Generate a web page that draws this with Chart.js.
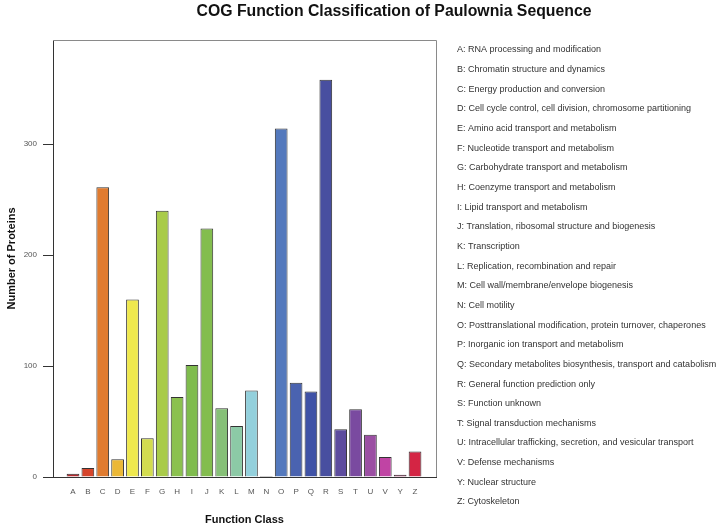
<!DOCTYPE html>
<html>
<head>
<meta charset="utf-8">
<script src="https://cdn.jsdelivr.net/npm/chart.js@4"></script>
<style>
  html, body { margin:0; padding:0; background:#fff; }
  #wrap { width:720px; height:524px; position:relative; }
</style>
</head>
<body>
<div id="wrap"><canvas id="cog"></canvas></div>
<script>
// COG classes and protein counts
const categories = ['A','B','C','D','E','F','G','H','I','J','K','L','M','N','O','P','Q','R','S','T','U','V','Y','Z'];
const counts = [3, 8, 261, 16, 160, 35, 240, 72, 101, 224, 62, 46, 78, 1, 314, 85, 77, 358, 43, 61, 38, 18, 2, 23];
const barColors = ['#b52a2e','#d6452b','#e07b2f','#ebb837','#efe84e','#d3dc4f','#a9cb4a','#8bc14f','#7fbc4d','#83bd4e',
                   '#86c077','#8ccaa6','#93d0dc','#3a3a3a','#5479bd','#4a63b0','#3f52a6','#484fa0','#5d4c9e','#7a4aa0',
                   '#9b4fa3','#c044a4','#a2255e','#d42544'];
const yTicks = [0, 100, 200, 300];
const descriptions = [
  'A: RNA processing and modification',
  'B: Chromatin structure and dynamics',
  'C: Energy production and conversion',
  'D: Cell cycle control, cell division, chromosome partitioning',
  'E: Amino acid transport and metabolism',
  'F: Nucleotide transport and metabolism',
  'G: Carbohydrate transport and metabolism',
  'H: Coenzyme transport and metabolism',
  'I: Lipid transport and metabolism',
  'J: Translation, ribosomal structure and biogenesis',
  'K: Transcription',
  'L: Replication, recombination and repair',
  'M: Cell wall/membrane/envelope biogenesis',
  'N: Cell motility',
  'O: Posttranslational modification, protein turnover, chaperones',
  'P: Inorganic ion transport and metabolism',
  'Q: Secondary metabolites biosynthesis, transport and catabolism',
  'R: General function prediction only',
  'S: Function unknown',
  'T: Signal transduction mechanisms',
  'U: Intracellular trafficking, secretion, and vesicular transport',
  'V: Defense mechanisms',
  'Y: Nuclear structure',
  'Z: Cytoskeleton'
];

const FONT = '"Liberation Sans", Arial, Helvetica, sans-serif';

// title, axis titles, description list and the grey box edges
const decorations = {
  id: 'decorations',
  afterDraw(chart){
    const ctx = chart.ctx, a = chart.chartArea;
    ctx.save();
    ctx.strokeStyle = '#8a8a8a';
    ctx.lineWidth = 1;
    ctx.beginPath();
    ctx.moveTo(a.left, a.top + 0.5);
    ctx.lineTo(a.right + 0.5, a.top + 0.5);
    ctx.lineTo(a.right + 0.5, a.bottom);
    ctx.stroke();

    ctx.fillStyle = '#111';
    ctx.textAlign = 'center';
    ctx.textBaseline = 'middle';
    ctx.font = 'bold 15.8px ' + FONT;
    ctx.fillText('COG Function Classification of Paulownia Sequence', 394, 12);

    ctx.font = 'bold 11px ' + FONT;
    ctx.fillText('Function Class', (a.left + a.right) / 2, 520);
    ctx.save();
    ctx.translate(12, (a.top + a.bottom) / 2);
    ctx.rotate(-Math.PI / 2);
    ctx.fillText('Number of Proteins', 0, 0);
    ctx.restore();

    ctx.textAlign = 'left';
    ctx.fillStyle = '#333';
    ctx.font = '9px ' + FONT;
    descriptions.forEach((d, i) => ctx.fillText(d, 457, 50 + i * 19.65));
    ctx.restore();
  }
};

new Chart(document.getElementById('cog'), {
  type: 'bar',
  data: {
    datasets: [{
      data: categories.map((c, i) => ({ x: i, y: counts[i] })),
      backgroundColor: barColors,
      borderColor: '#333',
      borderWidth: 1,
      barPercentage: 0.855,
      categoryPercentage: 1
    }]
  },
  options: {
    responsive: true,
    maintainAspectRatio: false,
    animation: false,
    layout: { padding: { top: 40, right: 284, left: 0, bottom: 0 } },
    plugins: { legend: { display: false }, tooltip: { enabled: false }, title: { display: false } },
    scales: {
      x: {
        type: 'linear',
        offset: false,
        min: -1.345,
        max: 24.41,
        afterBuildTicks: s => { s.ticks = categories.map((c, i) => ({ value: i })); },
        afterFit: s => { s.height = 47; },
        ticks: {
          autoSkip: false, maxRotation: 0, padding: 2,
          color: '#555', font: { size: 8, family: FONT },
          callback: v => categories[v]
        },
        grid: { display: false },
        border: { display: true, color: '#333', width: 1 }
      },
      y: {
        min: 0,
        max: 393.8,
        afterBuildTicks: s => { s.ticks = yTicks.map(v => ({ value: v })); },
        afterFit: s => { s.width = 53; },
        ticks: { color: '#555', padding: 6, font: { size: 8, family: FONT } },
        grid: { drawOnChartArea: false, drawTicks: true, tickLength: 10, color: '#333' },
        border: { display: true, color: '#333', width: 1 }
      }
    }
  },
  plugins: [decorations]
});
</script>
</body>
</html>
